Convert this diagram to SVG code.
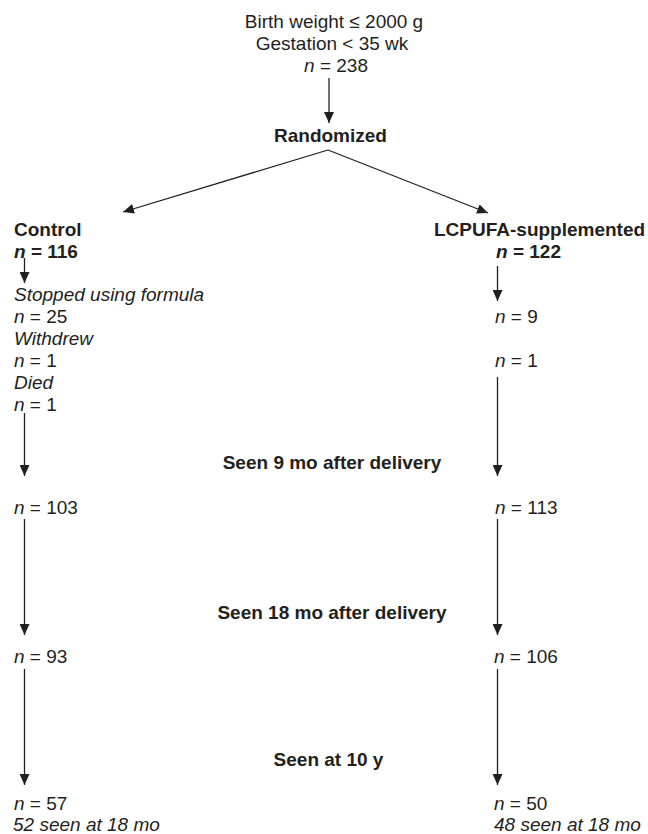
<svg xmlns="http://www.w3.org/2000/svg" width="648" height="834" viewBox="0 0 648 834">
<defs>
<style>
text{font-family:"Liberation Sans",Arial,sans-serif;font-size:19px;fill:#231f20}
.b{font-weight:bold}
.i{font-style:italic}
.m{text-anchor:middle}
.c{stroke:#231f20;stroke-width:1.3;fill:none;marker-end:url(#ah)}
</style>
<marker id="ah" markerUnits="userSpaceOnUse" markerWidth="11" markerHeight="10" refX="11" refY="5" orient="auto" viewBox="0 0 11 10">
<path d="M0,0 L11,5 L0,10 z" fill="#231f20"/>
</marker>
</defs>
<rect width="648" height="834" fill="#fff"/>
<g id="connectors">
<line class="c" x1="329" y1="78" x2="329" y2="123"/>
<line class="c" x1="328" y1="150" x2="123" y2="212"/>
<line class="c" x1="328" y1="150" x2="488" y2="213"/>
<line class="c" x1="24.5" y1="258" x2="24.5" y2="283"/>
<line class="c" x1="497.5" y1="266" x2="497.5" y2="301"/>
<line class="c" x1="24.5" y1="413" x2="24.5" y2="476"/>
<line class="c" x1="497.5" y1="377" x2="497.5" y2="476"/>
<line class="c" x1="24.5" y1="519" x2="24.5" y2="635"/>
<line class="c" x1="497.5" y1="519" x2="497.5" y2="635"/>
<line class="c" x1="24.5" y1="669" x2="24.5" y2="785"/>
<line class="c" x1="497.5" y1="669" x2="497.5" y2="785"/>
</g>
<g id="eligible">
<text class="m" x="334" y="28">Birth weight ≤ 2000 g</text>
<text class="m" x="332" y="50">Gestation &lt; 35 wk</text>
<text class="m" x="336" y="72"><tspan class="i">n</tspan> = 238</text>
</g>
<g id="randomized">
<text class="m b" x="330.5" y="142">Randomized</text>
</g>
<g id="control">
<text class="b" x="14" y="236">Control</text>
<text class="b" x="14" y="258"><tspan class="i">n</tspan> = 116</text>
</g>
<g id="lcpufa">
<text class="b" x="434" y="236">LCPUFA-supplemented</text>
<text class="b" x="496" y="258"><tspan class="i">n</tspan> = 122</text>
</g>
<g id="control-excluded">
<text class="i" x="14" y="301">Stopped using formula</text>
<text x="14" y="323"><tspan class="i">n</tspan> = 25</text>
<text class="i" x="14" y="345">Withdrew</text>
<text x="14" y="367"><tspan class="i">n</tspan> = 1</text>
<text class="i" x="14" y="389">Died</text>
<text x="14" y="411"><tspan class="i">n</tspan> = 1</text>
</g>
<g id="lcpufa-excluded">
<text x="495" y="323"><tspan class="i">n</tspan> = 9</text>
<text x="495" y="367"><tspan class="i">n</tspan> = 1</text>
</g>
<g id="seen-9mo">
<text class="m b" x="332" y="469">Seen 9 mo after delivery</text>
</g>
<g id="control-9mo">
<text x="14" y="514"><tspan class="i">n</tspan> = 103</text>
</g>
<g id="lcpufa-9mo">
<text x="495" y="514"><tspan class="i">n</tspan> = 113</text>
</g>
<g id="seen-18mo">
<text class="m b" x="332" y="619">Seen 18 mo after delivery</text>
</g>
<g id="control-18mo">
<text x="14" y="663"><tspan class="i">n</tspan> = 93</text>
</g>
<g id="lcpufa-18mo">
<text x="494" y="663"><tspan class="i">n</tspan> = 106</text>
</g>
<g id="seen-10y">
<text class="m b" x="328.5" y="766">Seen at 10 y</text>
</g>
<g id="control-10y">
<text x="14" y="810"><tspan class="i">n</tspan> = 57</text>
<text class="i" x="13" y="831">52 seen at 18 mo</text>
</g>
<g id="lcpufa-10y">
<text x="494" y="810"><tspan class="i">n</tspan> = 50</text>
<text class="i" x="494" y="831">48 seen at 18 mo</text>
</g>
</svg>
